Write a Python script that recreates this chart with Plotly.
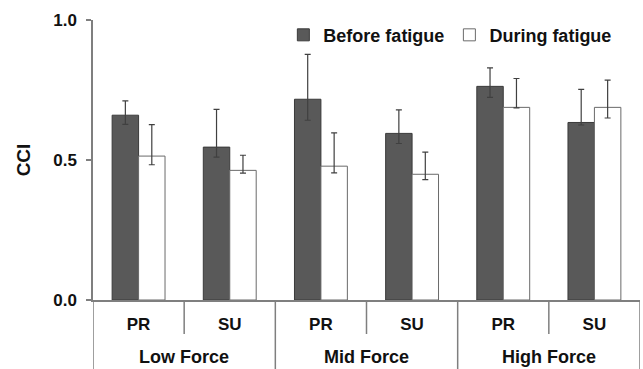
import plotly.graph_objects as go

# Force levels and postures
force_groups = ["Low Force", "Mid Force", "High Force"]
postures = ["PR", "SU"]

# Co-contraction index (mean) and error bar extents, ordered
# Low PR, Low SU, Mid PR, Mid SU, High PR, High SU
before_cci = [0.660, 0.546, 0.717, 0.595, 0.763, 0.634]
before_err_up = [0.051, 0.135, 0.160, 0.084, 0.066, 0.118]
before_err_down = [0.033, 0.036, 0.075, 0.036, 0.039, 0.009]

during_cci = [0.514, 0.463, 0.478, 0.449, 0.688, 0.688]
during_err_up = [0.112, 0.054, 0.119, 0.079, 0.103, 0.097]
during_err_down = [0.031, 0.010, 0.024, 0.019, 0.002, 0.038]

y_ticks = [0.0, 0.5, 1.0]
y_tick_labels = ["0.0", "0.5", "1.0"]

font_family = "Liberation Sans, Arial, sans-serif"
axis_grey = "#7f7f7f"
text_color = "#111111"

# One category per (force level, posture) pair
categories = [f"{g} {p}" for g in force_groups for p in postures]
posture_labels = [p for g in force_groups for p in postures]

fig = go.Figure()
fig.add_trace(go.Bar(
    name="Before fatigue",
    x=categories,
    y=before_cci,
    marker=dict(color="#595959", line=dict(color="#3a3a3a", width=1)),
    error_y=dict(type="data", symmetric=False, array=before_err_up,
                 arrayminus=before_err_down, color="#404040", thickness=1.2, width=3),
))
fig.add_trace(go.Bar(
    name="During fatigue",
    x=categories,
    y=during_cci,
    marker=dict(color="white", line=dict(color="#6a6a6a", width=1)),
    error_y=dict(type="data", symmetric=False, array=during_err_up,
                 arrayminus=during_err_down, color="#404040", thickness=1.2, width=3),
))

# Short separators between postures, full-height separators between force levels
n_cat = len(categories)
for i in range(n_cat + 1):
    boundary = i - 0.5
    is_group_edge = (i % len(postures) == 0)
    fig.add_shape(
        type="line", xref="x", yref="paper",
        x0=boundary, x1=boundary, y0=0,
        y1=-70 if is_group_edge else -34,
        ysizemode="pixel", yanchor=0,
        line=dict(color=axis_grey, width=1.5),
    )

# Force-level labels centred under each pair of postures
for gi, g in enumerate(force_groups):
    centre = gi * len(postures) + (len(postures) - 1) / 2
    fig.add_annotation(
        x=centre, xref="x", y=0, yref="paper",
        yshift=-57, yanchor="middle", showarrow=False,
        text=g, font=dict(family=font_family, size=18, color=text_color, weight="bold"),
    )

fig.update_layout(
    width=643, height=369,
    margin=dict(l=93, r=3, t=20, b=69),
    paper_bgcolor="white", plot_bgcolor="white",
    barmode="group", bargap=0.42, bargroupgap=0.0,
    font=dict(family=font_family, size=17, color=text_color),
    showlegend=True,
    legend=dict(orientation="h", x=0.348, y=1.012, xanchor="left", yanchor="top",
                font=dict(family=font_family, size=18, color=text_color, weight="bold"),
                itemwidth=30, bgcolor="rgba(0,0,0,0)"),
    yaxis=dict(
        range=[0, 1.0], tickvals=y_ticks, ticktext=y_tick_labels,
        showgrid=False, zeroline=False, showline=True, linecolor=axis_grey, linewidth=1.5,
        ticks="outside", ticklen=5, tickcolor=axis_grey, tickwidth=1.5,
        ticklabelstandoff=6,
        tickfont=dict(size=17, weight="bold"),
        title=dict(text="CCI", font=dict(size=19, weight="bold"), standoff=18),
    ),
    xaxis=dict(
        type="category", categoryorder="array", categoryarray=categories,
        tickvals=categories, ticktext=posture_labels,
        range=[-0.5, n_cat - 0.5],
        showgrid=False, zeroline=False, showline=True, linecolor=axis_grey, linewidth=1.5,
        ticks="", ticklabelstandoff=8,
        tickfont=dict(size=17, weight="bold"),
    ),
)

fig.write_html("out.html")
